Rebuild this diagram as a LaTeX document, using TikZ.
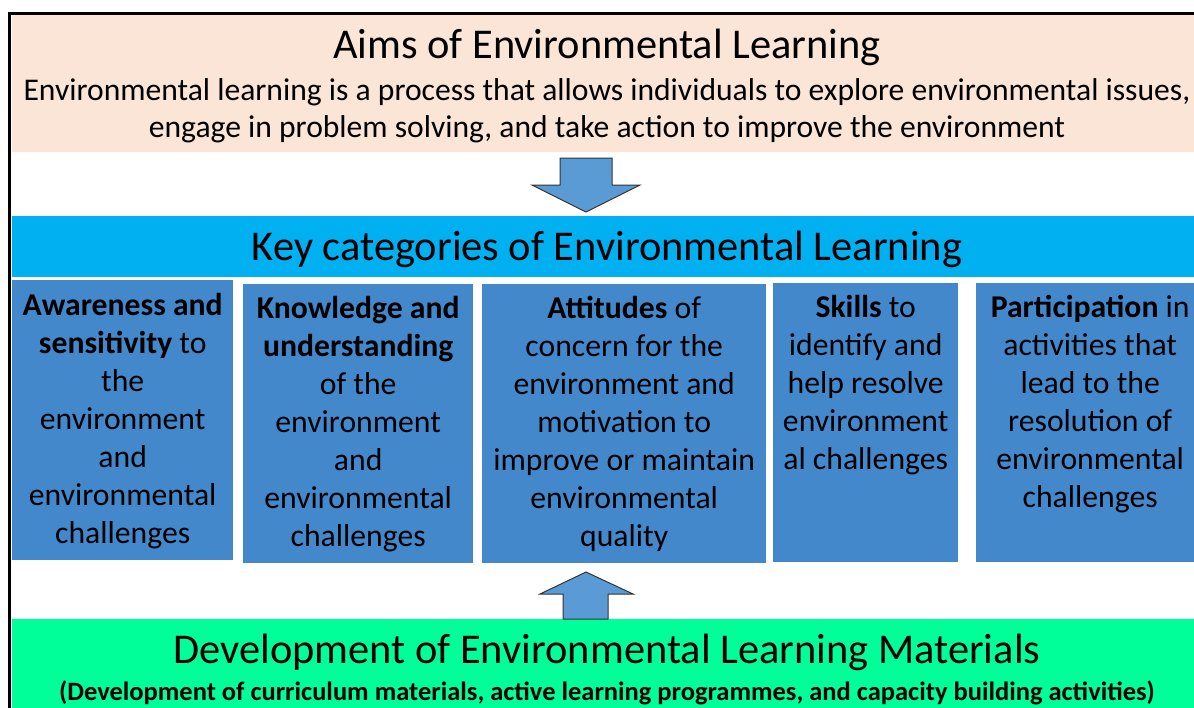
\documentclass[tikz,border=0pt]{standalone}
\usepackage{fontspec}
\setmainfont{Carlito}
\usetikzlibrary{positioning}

\definecolor{aimspeach}{HTML}{FBE5D6}
\definecolor{keycyan}{HTML}{00B0F0}
\definecolor{catblue}{RGB}{68,136,204}
\definecolor{arrowblue}{HTML}{5B9BD5}
\definecolor{devgreen}{HTML}{00FF99}

\newcommand{\bigfont}{\fontsize{42.4}{50}\selectfont}
\newcommand{\descfont}{\fontsize{31.6}{37}\selectfont}
\newcommand{\catfont}{\fontsize{31.7}{38}\selectfont}
\newcommand{\subfont}{\fontsize{26.5}{30}\selectfont}

\begin{document}
\begin{tikzpicture}[x=1pt, y=-1pt,
  band/.style={anchor=north west, inner sep=0pt, minimum width=1192pt},
  catbox/.style={anchor=north west, inner sep=0pt, fill=catblue},
  cattext/.style={align=center, inner sep=0pt, font=\catfont},
  blockarrow/.style={fill=arrowblue, draw=black!80, line width=1pt, line join=miter}]
\useasboundingbox (0,0) rectangle (1194,707);
\clip (0,0) rectangle (1194,707);

% bands
\node[band, fill=aimspeach, minimum height=137pt] (aims) at (11.5,15) {};
\node[band, fill=keycyan, minimum height=61pt] (keys) at (11.5,216) {};
\node[band, fill=devgreen, minimum height=100pt] (dev) at (11.5,619) {};

% category boxes
\node[catbox, minimum width=221pt, minimum height=280pt] (aware) at (12,280) {};
\node[catbox, minimum width=230pt, minimum height=279pt] (know) at (243,284) {};
\node[catbox, minimum width=284pt, minimum height=279pt] (attit) at (482,284) {};
\node[catbox, minimum width=185pt, minimum height=279pt] (skill) at (773,283) {};
\node[catbox, minimum width=228pt, minimum height=279pt] (partic) at (976,283) {};

% frame
\draw[line width=3.5pt] (9.5,720) -- (9.5,13.5) -- (1210,13.5);

% arrows
\draw[blockarrow] (560,158) -- (612,158) -- (612,185) -- (640,185) -- (586,212)
  -- (532,185) -- (560,185) -- cycle;
\draw[blockarrow] (586,572) -- (633,594) -- (608,594) -- (608,619) -- (563,619)
  -- (563,594) -- (540,594) -- cycle;

% texts
\node[anchor=base] (aimstitle) at (607,58) {\bigfont Aims of Environmental Learning};
\node[anchor=north, align=center, inner sep=0pt, font=\descfont] (aimstext) at (607,74)
  {\strut Environmental learning is a process that allows individuals to explore environmental issues,\\
   engage in problem solving, and take action to improve the environment};
\node[anchor=base] (keystitle) at (607,260) {\bigfont Key categories of Environmental Learning};

\node[cattext, below=9pt of aware.north] (awaretext)
  {\strut\textbf{Awareness and}\\\textbf{sensitivity} to\\the\\environment\\and\\environmental\\challenges};
\node[cattext, below=8pt of know.north] (knowtext)
  {\strut\textbf{Knowledge and}\\\textbf{understanding}\\of the\\environment\\and\\environmental\\challenges};
\node[cattext, below=8pt of attit.north] (attittext)
  {\strut\textbf{Attitudes} of\\concern for the\\environment and\\motivation to\\improve or maintain\\environmental\\quality};
\node[cattext, below=8pt of skill.north] (skilltext)
  {\strut\textbf{Skills} to\\identify and\\help resolve\\environment\\al challenges};
\node[cattext, below=8pt of partic.north] (partictext)
  {\strut\textbf{Participation} in\\activities that\\lead to the\\resolution of\\environmental\\challenges};

\node[anchor=base] (devtitle) at (607,663) {\bigfont Development of Environmental Learning Materials};
\node[anchor=base] (devtext) at (607,700)
  {\subfont\bfseries (Development of curriculum materials, active learning programmes, and capacity building activities)};
\end{tikzpicture}
\end{document}
